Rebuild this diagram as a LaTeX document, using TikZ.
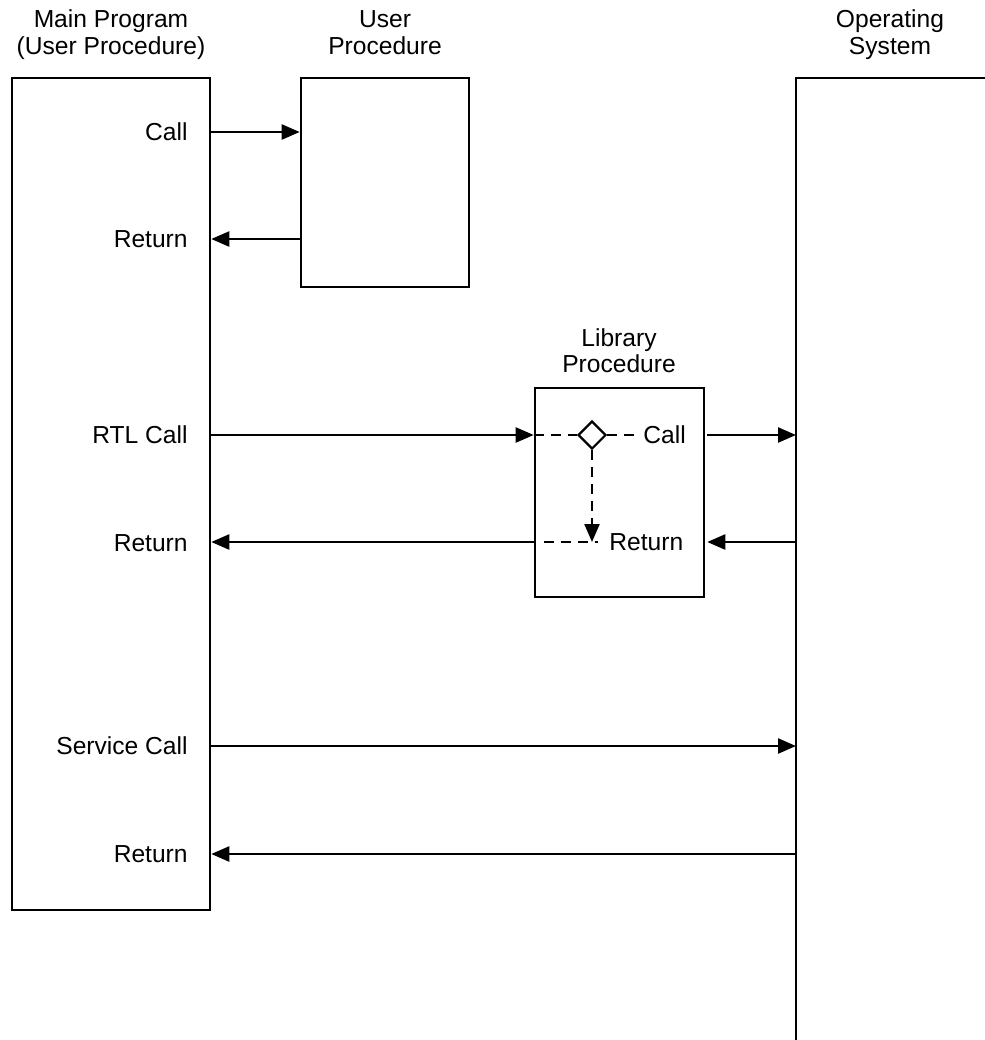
\documentclass[tikz,border=0pt]{standalone}
\usepackage{fontspec}
\setmainfont{Liberation Sans}
\usetikzlibrary{arrows.meta,shapes.geometric}

\tikzset{
  block/.style={draw, line width=1.3pt, inner sep=0pt},
  lbl/.style={font=\fontsize{12.3}{13.5}\selectfont, inner sep=2pt,
    text height=8.7pt, text depth=0pt},
  head/.style={font=\fontsize{12.3}{13.5}\selectfont, inner sep=0pt, align=center},
  flow/.style={line width=1.2pt, -{Triangle[length=9pt,width=7.5pt]}},
  dash line/.style={line width=1.1pt, dash pattern=on 5pt off 3.5pt},
}

\begin{document}
\begin{tikzpicture}[x=0.5pt, y=-0.5pt]
      \useasboundingbox (0,0) rectangle (985,1040);

      \node[block, minimum width=99pt, minimum height=416pt] (main) at (111,494) {};
      \node[block, minimum width=84pt, minimum height=104.5pt] (user) at (385,182.5) {};
      \node[block, minimum width=84.5pt, minimum height=104.5pt] (lib) at (619.5,492.5) {};
      \coordinate (os) at (796,78);
      \coordinate (osEnd) at (986,78);
      \coordinate (osFoot) at (796,1041);
      \draw[line width=1.3pt] (osEnd) -- (os) -- (osFoot);

      \node[head] (mainHead) at (111,36) {Main Program\strut\\(User Procedure)\strut};
      \node[head] (userHead) at (385,36) {User\strut\\Procedure\strut};
      \node[head] (osHead) at (890,36) {Operating\strut\\System\strut};
      \node[head, font=\fontsize{12.3}{11.5}\selectfont] (libHead) at (619,354)
            {Library\strut\\Procedure\strut};

      \node[lbl, anchor=east] (call) at (192,132) {Call};
      \node[lbl, anchor=east] (ret) at (192,239) {Return};
      \node[lbl, anchor=east] (rtl) at (192,435) {RTL Call};
      \node[lbl, anchor=east] (rtlRet) at (192,543) {Return};
      \node[lbl, anchor=east] (svc) at (192,746) {Service Call};
      \node[lbl, anchor=east] (svcRet) at (192,854) {Return};

      \node[draw, diamond, line width=1.1pt, inner sep=0pt,
            minimum width=14pt, minimum height=14pt] (pick) at (592,435) {};
      \node[lbl, anchor=west] (libCall) at (639,435) {Call};
      \node[lbl, anchor=west] (libRet) at (605,542) {Return};

      \draw[flow] (main.east |- call) -- (user.west |- call);
      \draw[flow] (user.west |- ret) -- (main.east |- ret);
      \draw[flow] (main.east |- rtl) -- (lib.west |- rtl);
      \draw[flow] (lib.west |- libRet) -- (main.east |- libRet);
      \draw[flow] (main.east |- svc) -- (os |- svc);
      \draw[flow] (os |- svcRet) -- (main.east |- svcRet);

      \draw[flow] ([xshift=1pt]lib.east |- libCall) -- (os |- libCall);
      \draw[flow] (os |- libRet) -- ([xshift=1pt]lib.east |- libRet);

      \draw[dash line] (lib.west |- pick) -- (pick.west);
      \draw[dash line] (pick.east) -- (libCall.west);
      \draw[dash line, -{Triangle[length=9pt,width=7.5pt]}] (pick.south) -- (pick.south |- libRet);
      \draw[dash line] ([xshift=5pt]lib.west |- libRet) -- ([xshift=3pt]pick.south |- libRet);
    \end{tikzpicture}
\end{document}
